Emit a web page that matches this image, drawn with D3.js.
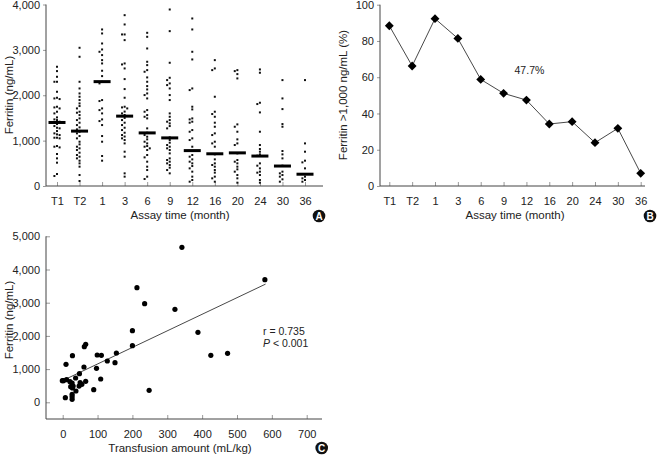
<!DOCTYPE html>
<html><head><meta charset="utf-8">
<script src="https://cdn.jsdelivr.net/npm/d3@7"></script>
<style>
body{margin:0;background:#fff;}
svg{display:block;font-family:"Liberation Sans Narrow","Liberation Sans",Arial,sans-serif;}
</style></head><body>
<script>
// ---------- DATA ----------
const assayTimes = ["T1","T2","1","3","6","9","12","16","20","24","30","36"];
const ferritinT1 = [2628,2532,2407,2297,2297,2077,1945,1930,1916,1747,1732,1710,1637,1600,1512,1468,1453,1417,1402,1365,1321,1284,1270,1211,1160,1138,1123,1064,1064,1050,881,866,851,705,609,514,264,220];
const ferritinT2 = [3046,2848,2297,2150,2040,1967,1894,1820,1762,1710,1637,1615,1563,1490,1453,1395,1343,1292,1248,1196,1160,1101,1050,976,917,866,830,793,734,683,646,609,558,499,426,242,110];
const ferritinM1 = [3450,3362,3141,3009,2958,2885,2774,2701,2540,2422,2297,2261,1894,1872,1710,1673,1600,1468,1431,1343,1101,976,661,558];
const ferritinM3 = [3765,3560,3340,3340,3215,2701,2679,2591,2356,2136,1945,1747,1732,1710,1640,1600,1565,1540,1500,1453,1395,1343,1284,1233,1174,1123,1090,1050,1013,939,756,646,279,206];
const ferritinM6 = [3376,3288,3031,2738,2664,2554,2518,2393,2297,2202,2128,2040,2004,1930,1673,1637,1563,1526,1490,1270,1174,1123,1086,1028,976,939,881,866,830,793,683,631,536,426,352,206,154];
const ferritinM9 = [3890,3413,2716,2385,2334,2261,2224,2150,2004,1894,1600,1526,1453,1417,1380,1321,1270,1072,1013,954,903,866,830,793,719,609,573,536,499,463,404,352,279];
const ferritinM12 = [3692,3450,2958,2789,2150,2114,1747,1688,1490,1468,1417,1395,1233,1196,1050,1013,866,771,683,646,587,536,499,440,389,316,206,132,95];
const ferritinM16 = [2774,2591,2554,1967,1637,1586,1526,1395,1306,1160,1123,976,939,866,697,587,499,463,426,352,294,206,169,95];
const ferritinM20 = [2554,2532,2466,2371,1358,1306,1196,1028,939,903,719,573,536,499,426,367,316,242,169,73];
const ferritinM24 = [2569,2496,1835,1806,1622,1196,903,815,756,697,668,499,448,389,316,294,242,132,73];
const ferritinM30 = [2334,1930,1695,1365,1306,771,697,609,448,316,279,242,206,147,95];
const ferritinM36 = [2334,939,756,558,521,389,264,206,169,132,95];
const medians = [1400,1210,2300,1540,1170,1060,780,710,730,660,440,260];
const pctAbove1000 = [88.4,66.2,92.3,81.4,58.8,51.1,47.4,34.2,35.5,23.9,31.8,7.0];
const transfusion = [342,580,213,235,322,200,388,200,425,473,66,62,28,9.5,99,111,154,128,150,61,97,109,89,248,48,37,-1,2,11,21,27,23,30,28,50,55,47,66,38,7.6,27,27,27];
const ferritinC   = [4668,3693,3452,2970,2800,2157,2108,1705,1415,1475,1747,1675,1404,1145,1425,1416,1485,1244,1193,1063,1024,702,380,361,861,732,651,651,680,620,580,470,490,430,590,540,490,632,340,139,241,170,90];
const regressionEnds = [[5,680],[582,3560]];
const yTicksA = [0,1000,2000,3000,4000];
const yTicksB = [0,20,40,60,80,100];
const yTicksC = [0,1000,2000,3000,4000,5000];
const xTicksC = [0,100,200,300,400,500,600,700];

const seriesA = [ferritinT1,ferritinT2,ferritinM1,ferritinM3,ferritinM6,ferritinM9,ferritinM12,ferritinM16,ferritinM20,ferritinM24,ferritinM30,ferritinM36];

// ---------- DRAW ----------
const W=661,H=457;
const svg=d3.select("body").append("svg").attr("width",W).attr("height",H);
const txt="#222", axisCol="#444", tickCol="#999";
const fmt=d3.format(",");

function styleAxis(g){
  g.select(".domain").remove();
  g.selectAll(".tick line").attr("stroke",tickCol);
  g.selectAll(".tick text").attr("fill",txt).style("font-size","11px").style("font-family",'"Liberation Sans Narrow","Liberation Sans",Arial,sans-serif');
}
function badge(x,y,l){
  svg.append("circle").attr("cx",x).attr("cy",y).attr("r",6.3).attr("fill","#111");
  svg.append("text").attr("x",x).attr("y",y+3.6).attr("text-anchor","middle").attr("fill","#fff")
     .style("font-size","10px").style("font-weight","bold").style("font-family","Liberation Sans,Arial,sans-serif").text(l);
}
function label(x,y,t,rot){
  const e=svg.append("text").attr("text-anchor","middle").attr("fill",txt).style("font-size","11.5px");
  if(rot) e.attr("transform",`translate(${x},${y}) rotate(-90)`); else e.attr("x",x).attr("y",y);
  e.text(t); return e;
}

// ===== Panel A =====
{
  const x=d3.scalePoint().domain(assayTimes).range([57,305]);
  const y=d3.scaleLinear().domain([0,4000]).range([186,4.5]);
  const left=46,right=323;
  svg.append("g").attr("transform",`translate(${left},0)`)
     .call(d3.axisLeft(y).tickValues(yTicksA).tickFormat(fmt).tickSize(3).tickPadding(3)).call(styleAxis);
  svg.append("g").attr("transform",`translate(0,${y(0)})`)
     .call(d3.axisBottom(x).tickSizeInner(-4).tickSizeOuter(0).tickPadding(11)).call(styleAxis);
  svg.append("line").attr("x1",left).attr("x2",left).attr("y1",y(4000)).attr("y2",y(0)).attr("stroke",axisCol);
  svg.append("line").attr("x1",left).attr("x2",right).attr("y1",y(0)).attr("y2",y(0)).attr("stroke",axisCol);
  // beeswarm dots
  seriesA.forEach((vals,i)=>{
    const cx=x(assayTimes[i]);
    const placed=[];
    const sorted=vals.slice().sort((a,b)=>b-a);
    sorted.forEach(v=>{
      const py=y(v);
      const offs=[0,-2.6,2.6,-5.2,5.2,-7.8,7.8,-10.4,10.4];
      let dx=0;
      for(const o of offs){
        if(!placed.some(p=>Math.abs(p[0]-o)<2.5&&Math.abs(p[1]-py)<2.5)){dx=o;break;}
      }
      placed.push([dx,py]);
      svg.append("rect").attr("x",cx+dx-1).attr("y",py-1).attr("width",2).attr("height",2).attr("fill","#111");
    });
    svg.append("rect").attr("x",cx-8.5).attr("y",y(medians[i])-1.5).attr("width",17).attr("height",3).attr("fill","#000");
  });
  label(-95,13,"Ferritin (ng/mL)",true).attr("transform","translate(13,95) rotate(-90)");
  label(180,219,"Assay time (month)");
  badge(319,216,"A");
}

// ===== Panel B =====
{
  const x=d3.scalePoint().domain(assayTimes).range([389.3,640.7]);
  const y=d3.scaleLinear().domain([0,100]).range([186,4.7]);
  const left=380,right=645;
  svg.append("g").attr("transform",`translate(${left},0)`)
     .call(d3.axisLeft(y).tickValues(yTicksB).tickSize(3).tickPadding(3)).call(styleAxis);
  svg.append("g").attr("transform",`translate(0,${y(0)})`)
     .call(d3.axisBottom(x).tickSizeInner(-4).tickSizeOuter(0).tickPadding(11)).call(styleAxis);
  svg.append("line").attr("x1",left).attr("x2",left).attr("y1",y(100)).attr("y2",y(0)).attr("stroke",axisCol);
  svg.append("line").attr("x1",left).attr("x2",right).attr("y1",y(0)).attr("y2",y(0)).attr("stroke",axisCol);
  const pts=assayTimes.map((c,i)=>[x(c),y(pctAbove1000[i])]);
  svg.append("path").attr("d",d3.line()(pts)).attr("fill","none").attr("stroke","#333").attr("stroke-width",0.9);
  svg.selectAll("path.dm").data(pts).enter().append("path").attr("class","dm")
     .attr("transform",d=>`translate(${d[0]},${d[1]})`)
     .attr("d",d3.symbol(d3.symbolDiamond2,50)).attr("fill","#000");
  svg.append("text").attr("x",x("12")+3).attr("y",y(47.4)-26).attr("text-anchor","middle").attr("fill",txt).style("font-size","10.5px").text("47.7%");
  label(0,0,"Ferritin >1,000 ng/mL (%)").attr("transform","translate(347,95) rotate(-90)");
  label(515,219,"Assay time (month)");
  badge(650,216,"B");
}

// ===== Panel C =====
{
  const x=d3.scaleLinear().domain([0,700]).range([62.7,306.7]);
  const y=d3.scaleLinear().domain([0,5000]).range([402.3,236.3]);
  const left=46,right=322,bottom=419;
  svg.append("g").attr("transform",`translate(${left},0)`)
     .call(d3.axisRight(y).tickValues(yTicksC).tickFormat(fmt).tickSize(4).tickPadding(-30)).call(styleAxis)
     .selectAll(".tick text").attr("text-anchor","end").attr("x",-6);
  svg.append("g").attr("transform",`translate(0,${bottom})`)
     .call(d3.axisBottom(x).tickValues(xTicksC).tickSizeInner(-4).tickSizeOuter(0).tickPadding(11)).call(styleAxis);
  svg.append("line").attr("x1",left).attr("x2",left).attr("y1",y(5000)).attr("y2",bottom).attr("stroke",axisCol);
  svg.append("line").attr("x1",left).attr("x2",right).attr("y1",bottom).attr("y2",bottom).attr("stroke",axisCol);
  svg.append("line").attr("x1",x(regressionEnds[0][0])).attr("y1",y(regressionEnds[0][1]))
     .attr("x2",x(regressionEnds[1][0])).attr("y2",y(regressionEnds[1][1])).attr("stroke","#333").attr("stroke-width",0.9);
  svg.selectAll("circle.pt").data(transfusion).enter().append("circle").attr("class","pt")
     .attr("cx",d=>x(d)).attr("cy",(d,i)=>y(ferritinC[i])).attr("r",2.6).attr("fill","#000");
  const t=svg.append("text").attr("x",263).attr("y",335).attr("fill",txt).style("font-size","10.5px");
  t.text("r = 0.735");
  const t2=svg.append("text").attr("x",263).attr("y",346.5).attr("fill",txt).style("font-size","10.5px");
  t2.append("tspan").style("font-style","italic").text("P");
  t2.append("tspan").text(" < 0.001");
  label(0,0,"Ferritin (ng/mL)").attr("transform","translate(13,320) rotate(-90)");
  label(180,452,"Transfusion amount (mL/kg)");
  badge(321.7,448,"C");
}
</script>
</body></html>
